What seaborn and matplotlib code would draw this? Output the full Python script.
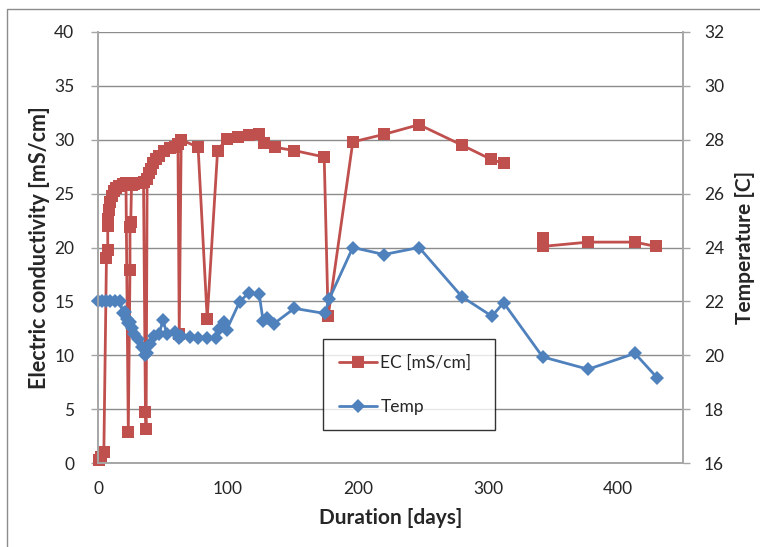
import matplotlib
matplotlib.use("Agg")
import matplotlib.pyplot as plt
import seaborn as sns
import pandas as pd
from matplotlib.patches import Rectangle

# ---------------- data ----------------
ec_days = [0.5, 2, 4.5, 6.5, 7.5, 7.5, 8, 8.5, 9.5, 10.5,
           12, 14, 16.5, 19, 21.5, 23.3, 24.6, 24.6, 25.2, 25.8,
           27.5, 30, 32.5, 35, 36.5, 37, 37.8, 39, 40.5, 42.5,
           44.5, 47, 51, 55, 59, 61.5, 62.5, 64, 77, 84,
           92, 99, 108, 116, 124, 128, 136, 151, 174, 177,
           196, 220, 247, 280, 302, 312, 342, 342, 377, 413,
           429]
ec_values = [0.3, 0.6, 1.0, 19.0, 19.8, 22.0, 22.6, 23.5, 24.2, 24.8,
             25.2, 25.5, 25.7, 25.9, 26.0, 2.9, 17.9, 21.9, 22.4, 25.8,
             25.9, 26.0, 26.0, 26.1, 4.7, 3.2, 26.4, 26.9, 27.3, 27.8,
             28.2, 28.5, 29.0, 29.2, 29.3, 29.6, 12.0, 30.0, 29.3, 13.4,
             29.0, 30.1, 30.3, 30.4, 30.5, 29.7, 29.3, 29.0, 28.4, 13.6,
             29.8, 30.5, 31.4, 29.5, 28.2, 27.8, 20.9, 20.1, 20.5, 20.5,
             20.1]
ec_segment = [0] * 56 + [1] * 5

temp_days = [0, 3, 6, 9, 13, 17, 19, 20.5, 22, 23, 24.5, 26, 28, 31, 34, 36,
             38, 40, 43, 47, 50, 53, 59, 62, 64, 71, 77, 84, 91, 93, 97, 99,
             109, 116, 124, 127, 130, 135, 151, 174.6, 177.7, 196, 220, 247,
             280, 303, 312, 342, 377, 413, 430]
temp_values = [22.0, 22.0, 22.0, 22.0, 22.0, 22.0, 21.55, 21.6, 21.35, 21.2,
               21.25, 21.0, 20.8, 20.6, 20.3, 20.0, 20.1, 20.4, 20.7, 20.8,
               21.3, 20.8, 20.85, 20.65, 20.7, 20.69, 20.65, 20.65, 20.65,
               20.96, 21.24, 20.95, 21.99, 22.32, 22.26, 21.28, 21.37, 21.16,
               21.74, 21.55, 22.07, 24.0, 23.74, 24.0, 22.17, 21.45, 21.95,
               19.94, 19.48, 20.07, 19.17]

x_ticks = [0, 100, 200, 300, 400]
ec_ticks = [0, 5, 10, 15, 20, 25, 30, 35, 40]
temp_ticks = [16, 18, 20, 22, 24, 26, 28, 30, 32]

ec_df = pd.DataFrame({"day": ec_days, "ec": ec_values, "seg": ec_segment})
temp_df = pd.DataFrame({"day": temp_days, "temp": temp_values})

# ---------------- style ----------------
sns.set_style("white")
plt.rcParams["font.family"] = ["Lato", "DejaVu Sans"]

RED = "#C0504D"
BLUE = "#4F81BD"
GRID = "#8C8C8C"
AXC = "#A6A6A6"
TXT = "#262626"

fig = plt.figure(figsize=(7.6, 5.47), dpi=100)
ax = fig.add_axes([98 / 760, 1 - 463 / 547, (683 - 98) / 760, (463 - 32) / 547])
ax2 = ax.twinx()

sns.lineplot(data=ec_df, x="day", y="ec", units="seg", estimator=None,
             sort=False, color=RED, marker="s", markersize=8,
             markeredgewidth=0, linewidth=2.0, ax=ax, legend=False,
             clip_on=False)
sns.lineplot(data=temp_df, x="day", y="temp", estimator=None, sort=False,
             color=BLUE, marker="D", markersize=7, markeredgewidth=0,
             linewidth=2.0, ax=ax2, legend=False, clip_on=False)

ax.set_xlim(0, 450)
ax.set_ylim(0, 40)
ax2.set_ylim(16, 32)
ax.set_xticks(x_ticks)
ax.set_yticks(ec_ticks)
ax2.set_yticks(temp_ticks)

ax.yaxis.grid(True, color=GRID, linewidth=1.0)
ax.set_axisbelow(True)

for a in (ax, ax2):
    for s in a.spines.values():
        s.set_color(AXC)
        s.set_linewidth(1.2)
    a.spines["top"].set_visible(False)
    a.tick_params(colors=AXC, labelcolor=TXT, labelsize=12.5, length=5,
                  width=1.0, direction="out")

ax.tick_params(axis="y", pad=12)
ax2.tick_params(axis="y", pad=10)
ax.tick_params(axis="x", pad=8)

ax.set_xlabel("Duration [days]", fontsize=15, fontweight="bold", color=TXT,
              labelpad=8)
ax.set_ylabel("Electric conductivity [mS/cm]", fontsize=15.5,
              fontweight="bold", color=TXT, labelpad=3)
ax2.set_ylabel("Temperature [C]", fontsize=15, fontweight="bold", color=TXT,
               labelpad=8)

handles = [ax.lines[0], ax2.lines[0]]
leg = ax2.legend(handles, ["EC [mS/cm]", "Temp"],
                 loc="upper left",
                 bbox_to_anchor=(323 / 760, 1 - 339 / 547, 172 / 760, 0.0),
                 mode="expand",
                 bbox_transform=fig.transFigure, frameon=True, fancybox=False,
                 fontsize=12.5, labelspacing=1.6, borderpad=0.9,
                 handlelength=2.2, handletextpad=0.2, borderaxespad=0)
leg.get_frame().set_edgecolor("black")
leg.get_frame().set_linewidth(1.0)
for t in leg.get_texts():
    t.set_color(TXT)

# outer chart border (top and left visible)
fig.patches.append(Rectangle((7 / 760, -0.1), 2, 1 - 9 / 547 + 0.1,
                             transform=fig.transFigure, fill=False,
                             edgecolor="#8C8C8C", linewidth=1.0))

fig.savefig("out.png", dpi=100)
